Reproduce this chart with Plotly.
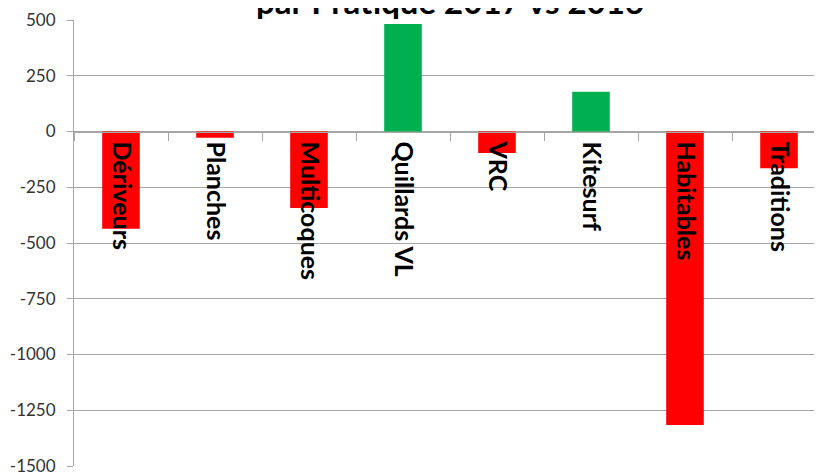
import plotly.graph_objects as go

# Données : évolution des licences par pratique, 2017 vs 2016
pratiques = ["Dériveurs", "Planches", "Multicoques", "Quillards VL",
             "VRC", "Kitesurf", "Habitables", "Traditions"]
evolution = [-436, -28, -343, 482, -96, 178, -1316, -165]
y_ticks = [500, 250, 0, -250, -500, -750, -1000, -1250, -1500]
y_labels = [str(v) for v in y_ticks]

couleurs = ["#00B050" if v > 0 else "#FF0000" for v in evolution]

fig = go.Figure(
    go.Bar(
        x=pratiques,
        y=evolution,
        marker=dict(color=couleurs, line=dict(width=0)),
        width=0.4,
    )
)

grey = "#A6A6A6"

# la page ajoute 8px de marge autour du graphique
fig.update_layout(
    width=822,
    height=474,
    margin=dict(l=66, r=4, t=12, b=16, autoexpand=False),
    plot_bgcolor="white",
    paper_bgcolor="white",
    showlegend=False,
    font=dict(family="Lato", color="#333333"),
    annotations=[
        dict(
            text="<b>par Pratique 2017 vs 2016</b>",
            xref="paper", yref="paper",
            x=0.5, y=1, yanchor="bottom", yshift=-3,
            showarrow=False,
            font=dict(size=33, color="black", family="Lato"),
        )
    ],
)

fig.update_yaxes(
    range=[-1500, 500],
    tickvals=y_ticks,
    ticktext=y_labels,
    automargin=False,
    showgrid=True,
    gridcolor=grey,
    zeroline=True,
    zerolinecolor=grey,
    showline=True,
    linecolor=grey,
    ticks="outside",
    ticklen=6,
    tickcolor=grey,
    ticklabelstandoff=8,
    tickfont=dict(size=17, color="#333333"),
)

# axe des catégories posé sur la ligne du zéro
fig.update_xaxes(
    anchor="free",
    position=0.75,
    automargin=False,
    tickvals=pratiques,
    ticktext=["<b>" + p + "</b>" for p in pratiques],
    showline=True,
    linecolor=grey,
    ticks="outside",
    tickson="boundaries",
    ticklen=8,
    tickcolor=grey,
    tickangle=90,
    ticklabelstandoff=4,
    tickfont=dict(size=25, color="black", family="Lato"),
    showgrid=False,
)

fig.write_html("out.html")
